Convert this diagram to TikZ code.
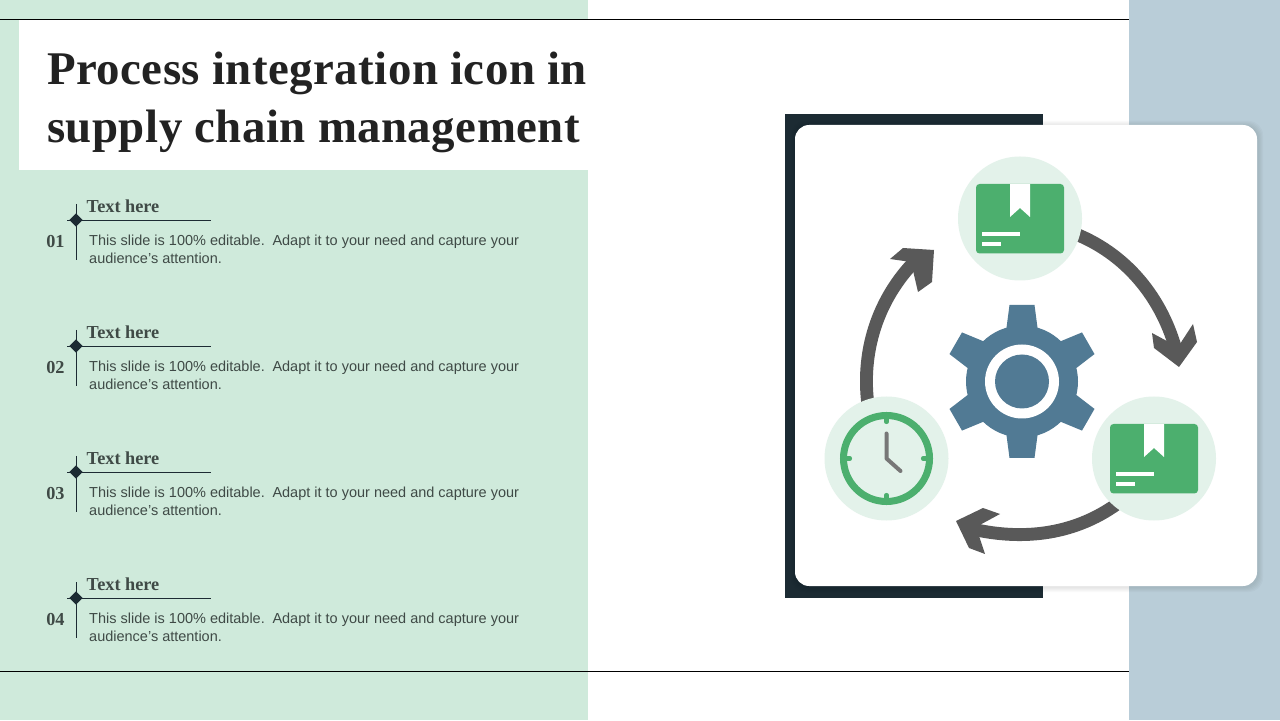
\documentclass[tikz,border=0pt]{standalone}
\usepackage{fontspec}
\setmainfont{Liberation Serif}
\newfontfamily\bodyfont{Liberation Sans}
\newfontfamily\titlefont[LetterSpace=1.0]{Liberation Serif}
\usetikzlibrary{calc, backgrounds, shapes.geometric}
\definecolor{leftgreen}{HTML}{CFEADB}
\definecolor{rightblue}{HTML}{B9CDD8}
\definecolor{darkpanel}{HTML}{1C2B33}
\definecolor{softgreen}{HTML}{E3F2EA}
\definecolor{boxgreen}{HTML}{4CAF6E}
\definecolor{gearblue}{HTML}{517A94}
\definecolor{arcgray}{HTML}{595959}
\definecolor{handgray}{HTML}{777777}
\definecolor{bodytext}{HTML}{3F4A46}
\definecolor{titletext}{HTML}{222222}
\tikzset{
    iconcircle/.style={circle, fill=softgreen, minimum size=3.72cm, inner sep=0pt},
    cycleline/.style={arcgray, line width=11pt, looseness=0.9, shorten <=-4pt},
    headfill/.style={fill=arcgray},
    rowdiamond/.style={diamond, fill=darkpanel, minimum size=0.4cm, inner sep=0pt},
    rowhead/.style={anchor=west, inner sep=0pt, text=bodytext, font=\fontsize{15.6pt}{18pt}\selectfont\bfseries},
    rownum/.style={inner sep=0pt, text=bodytext, font=\fontsize{15.6pt}{18pt}\selectfont\bfseries},
    rowbody/.style={anchor=north west, inner sep=0pt, align=left, text=bodytext, font=\fontsize{12.37pt}{15.3pt}\bodyfont},
    titlenode/.style={anchor=north west, inner sep=0pt, align=left, text=titletext, font=\fontsize{40pt}{49.3pt}\titlefont\bfseries}
}
\begin{document}
\begin{tikzpicture}[x=0.03cm,y=0.03cm]
    \useasboundingbox (0,0) rectangle (1280,720);
    % panels
    \begin{scope}[on background layer]
        \fill[white] (0,0) rectangle (1280,720);
        \fill[leftgreen] (0,0) rectangle (588,720);
        \fill[rightblue] (1129,0) rectangle (1280,720);
        \fill[white] (19,550) rectangle (588,700);
        \draw[black, line width=0.7pt] (0,701)--(1129,701);
        \draw[black, line width=0.7pt] (0,49)--(1129,49);
        \fill[darkpanel] (785,122) rectangle (1043,606);
        \foreach \s in {5,4,3,2,1}
            \fill[black, opacity=0.02, rounded corners=12] (795+1-\s,134-1-\s) rectangle (1257+1+\s,595-1+\s);
        \fill[white, rounded corners=12] (795,134) rectangle (1257,595);
    \end{scope}
    % title
    \node[titlenode] (title) at (47,668.5) {Process integration icon in\\supply chain management};
    % rows
    \foreach \n/\y in {01/500,02/374,03/248,04/122} {
        \node[rowdiamond] (mark\n) at (76,\y) {};
        \draw[darkpanel, line width=0.8pt] ($(mark\n)+(0,16)$)--($(mark\n)+(0,-40)$);
        \draw[darkpanel, line width=0.8pt] ($(mark\n)+(-9,0)$)--($(mark\n)+(135,0)$);
        \node[rowhead] (head\n) at (86.5,\y+14) {Text here};
        \node[rownum] (num\n) at (55.5,\y-21.5) {\n};
        \node[rowbody] (body\n) at (89,\y-14.5) {This slide is 100\% editable.\kern2pt{} Adapt it to your need and capture your\\audience’s attention.};
    }
    % icon circles
    \node[iconcircle] (boxtop) at (1020,501.5) {};
    \node[iconcircle] (boxright) at (1154,261.5) {};
    \node[iconcircle] (clockleft) at (886.5,261.5) {};
    % gear
    \begin{scope}[shift={(1022,338.5)}]
        \fill[gearblue] (0,0) circle (56);
        \foreach \a in {0,60,...,300}
            \fill[gearblue, rotate=\a] (-16,50)--(-12.5,76.5)--(12.5,76.5)--(16,50)--cycle;
        \fill[white] (0,0) circle (37);
        \fill[gearblue] (0,0) circle (27);
    \end{scope}
    % parcels
    \foreach \b in {boxtop,boxright} {
        \begin{scope}[shift={(\b)}]
            \fill[boxgreen, rounded corners=3] (-44,34.5) rectangle (44,-35);
            \fill[white] (-10,34.5)--(-10,1.5)--(0,10.5)--(10,1.5)--(10,34.5)--cycle;
            \fill[white] (-38,-13.5) rectangle (0,-17.5);
            \fill[white] (-38,-23.5) rectangle (-19,-27.5);
        \end{scope}
    }
    % clock
    \begin{scope}[shift={(clockleft)}]
        \draw[boxgreen, line width=6pt] (0,0) circle (43);
        \foreach \a in {0,90,180,270}
            \draw[boxgreen, line width=3.5pt, line cap=round, rotate=\a] (0,42)--(0,36.5);
        \draw[handgray, line width=3.4pt, line cap=round, line join=round] (0,25)--(0,0)--(14,-12.5);
    \end{scope}
    % cycle arrows
    \coordinate (necktop) at (1178,362);
    \coordinate (neckright) at (968,192);
    \coordinate (neckleft) at (919,463);
    \begin{scope}[on background layer]
        \draw[cycleline] (boxtop.-16) to[out=-22,in=103] (necktop);
        \draw[cycleline] (boxright.230) to[out=216,in=-14] (neckright);
        \draw[cycleline] (clockleft.108) to[out=97,in=224] (neckleft);
    \end{scope}
    \fill[headfill] (1179,353)--(1197,378)--(1193,396)--(1178,373)--(1152,387)--(1154,372)--cycle;
    \fill[headfill] (956,199)--(983,212)--(1000,206)--(976,193)--(985,166)--(969,172)--cycle;
    \fill[headfill] (934,470)--(903,472)--(890,461)--(911,458)--(918,428)--(932,438)--cycle;
\end{tikzpicture}
\end{document}
